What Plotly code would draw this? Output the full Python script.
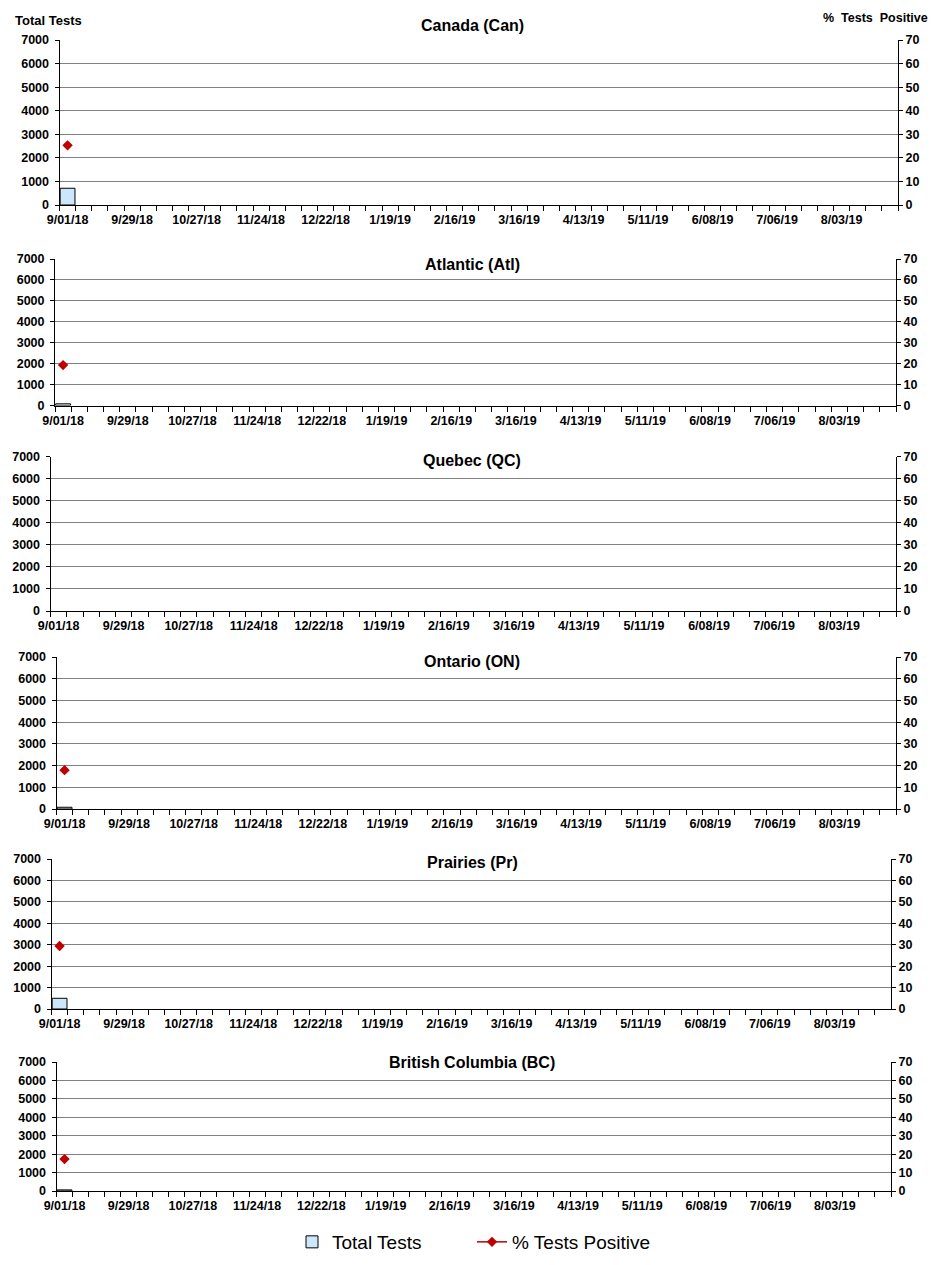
import plotly.graph_objects as go


# ------------------------------------------------------
# 1. DATA
# ------------------------------------------------------
# weekly categories on the x-axis (week starting)
weeks = [
    "9/01/18", "9/08/18", "9/15/18", "9/22/18", "9/29/18", "10/06/18", "10/13/18",
    "10/20/18", "10/27/18", "11/03/18", "11/10/18", "11/17/18", "11/24/18", "12/01/18",
    "12/08/18", "12/15/18", "12/22/18", "12/29/18", "1/05/19", "1/12/19", "1/19/19",
    "1/26/19", "2/02/19", "2/09/19", "2/16/19", "2/23/19", "3/02/19", "3/09/19",
    "3/16/19", "3/23/19", "3/30/19", "4/06/19", "4/13/19", "4/20/19", "4/27/19",
    "5/04/19", "5/11/19", "5/18/19", "5/25/19", "6/01/19", "6/08/19", "6/15/19",
    "6/22/19", "6/29/19", "7/06/19", "7/13/19", "7/20/19", "7/27/19", "8/03/19",
    "8/10/19", "8/17/19", "8/24/19",
]
labelled_weeks = weeks[::4]

regions = ["Canada (Can)", "Atlantic (Atl)", "Quebec (QC)",
           "Ontario (ON)", "Prairies (Pr)", "British Columbia (BC)"]

# only the first week (9/01/18) has been reported so far
reported_weeks = ["9/01/18"]
total_tests = [710, 80, None, 80, 500, 60]
pct_positive = [25.3, 19.3, None, 17.9, 29.4, 17.3]


# ------------------------------------------------------
# 2. PANEL GEOMETRY (pixels: left, right, top, bottom, title y)
# ------------------------------------------------------
W, H = 944, 1265
panels = [
    (59.5, 898, 40, 205, 26),
    (55, 896, 259, 405.5, 264),
    (50.5, 896, 456.5, 611, 460),
    (56.5, 896, 657, 809, 661),
    (51.5, 891, 859, 1009, 863),
    (56.5, 891, 1062, 1191, 1062),
]

FONT = "Arial, Liberation Sans, sans-serif"
TICK_FONT = dict(family=FONT, size=12.5, color="black", weight="bold")
BAR_FILL = "#CCE6FA"
RED = "#C00000"
GRID = "#808080"


# ------------------------------------------------------
# 3. TRACES
# ------------------------------------------------------
fig = go.Figure()

for i, region in enumerate(regions):
    xa = "x" if i == 0 else f"x{i + 1}"
    ya = "y" if i == 0 else f"y{i + 1}"
    ya2 = f"y{i + 7}"

    # --- Bar: total tests ---
    fig.add_trace(go.Bar(
        x=reported_weeks,
        y=[total_tests[i]],
        name="Total Tests",
        legendgroup="tests",
        showlegend=(i == 0),
        marker=dict(color=BAR_FILL, line=dict(color="black", width=1)),
        xaxis=xa,
        yaxis=ya,
    ))

    # --- Line: % tests positive ---
    fig.add_trace(go.Scatter(
        x=reported_weeks,
        y=[pct_positive[i]],
        mode="lines+markers",
        name="% Tests Positive",
        legendgroup="pct",
        showlegend=(i == 0),
        line=dict(color=RED, width=1.5),
        marker=dict(symbol="diamond", size=8, color=RED),
        xaxis=xa,
        yaxis=ya2,
    ))


# ------------------------------------------------------
# 4. AXES
# ------------------------------------------------------
layout_axes = {}
annotations = []
ticktext = [w if w in labelled_weeks else "" for w in weeks]

for i, (left, right, top, bottom, title_y) in enumerate(panels):
    n = "" if i == 0 else str(i + 1)
    xa = "x" if i == 0 else f"x{i + 1}"
    ya = "y" if i == 0 else f"y{i + 1}"

    layout_axes[f"xaxis{n}"] = dict(
        domain=[left / W, right / W],
        anchor=ya,
        automargin=False,
        type="category",
        categoryorder="array",
        categoryarray=weeks,
        range=[-0.5, len(weeks) - 0.5],
        tickmode="array",
        tickvals=weeks,
        ticktext=ticktext,
        tickson="boundaries",
        ticks="outside",
        ticklen=5,
        tickcolor="black",
        tickangle=0,
        ticklabelstandoff=3,
        showline=True,
        linecolor="black",
        linewidth=1,
        showgrid=False,
        tickfont=TICK_FONT,
    )

    # Left Y-axis (total tests)
    layout_axes[f"yaxis{n}"] = dict(
        domain=[1 - bottom / H, 1 - top / H],
        anchor=xa,
        automargin=False,
        range=[0, 7000],
        tick0=0,
        dtick=1000,
        showgrid=True,
        gridcolor=GRID,
        gridwidth=1,
        zeroline=False,
        showline=True,
        linecolor="black",
        linewidth=1,
        ticks="outside",
        ticklen=4,
        tickcolor="black",
        ticklabelstandoff=3,
        tickfont=TICK_FONT,
    )

    # Right Y-axis (% positive)
    layout_axes[f"yaxis{i + 7}"] = dict(
        overlaying=ya,
        anchor=xa,
        automargin=False,
        side="right",
        range=[0, 70],
        tick0=0,
        dtick=10,
        showgrid=False,
        zeroline=False,
        showline=True,
        linecolor="black",
        linewidth=1,
        ticks="outside",
        ticklen=4,
        tickcolor="black",
        tickfont=TICK_FONT,
    )

    annotations.append(dict(
        text=regions[i], xref="paper", yref="paper",
        x=0.5, y=1 - title_y / H, xanchor="center", yanchor="middle",
        showarrow=False,
        font=dict(family=FONT, size=16, color="black", weight="bold"),
    ))

# axis captions on the top panel
annotations.append(dict(
    text="Total Tests", xref="paper", yref="paper",
    x=13 / W, y=1 - 20 / H, xanchor="left", yanchor="middle", showarrow=False,
    font=dict(family=FONT, size=13, color="black", weight="bold"),
))
annotations.append(dict(
    text="%  Tests  Positive", xref="paper", yref="paper",
    x=930 / W, y=1 - 18 / H, xanchor="right", yanchor="middle", showarrow=False,
    font=dict(family=FONT, size=12.5, color="black", weight="bold"),
))


# ------------------------------------------------------
# 5. LAYOUT
# ------------------------------------------------------
fig.update_layout(
    **layout_axes,
    width=W,
    height=H,
    margin=dict(l=0, r=0, t=0, b=0),
    paper_bgcolor="white",
    plot_bgcolor="white",
    bargap=0.08,
    annotations=annotations,
    legend=dict(
        orientation="h",
        x=0.5, xanchor="center",
        y=1 - 1242 / H, yanchor="middle",
        entrywidth=135,
        font=dict(family=FONT, size=19, color="black"),
    ),
)

fig.write_html(
    "out.html",
    config={"displayModeBar": False},
    post_script="document.body.style.margin='0'; document.body.style.overflow='hidden';",
)
